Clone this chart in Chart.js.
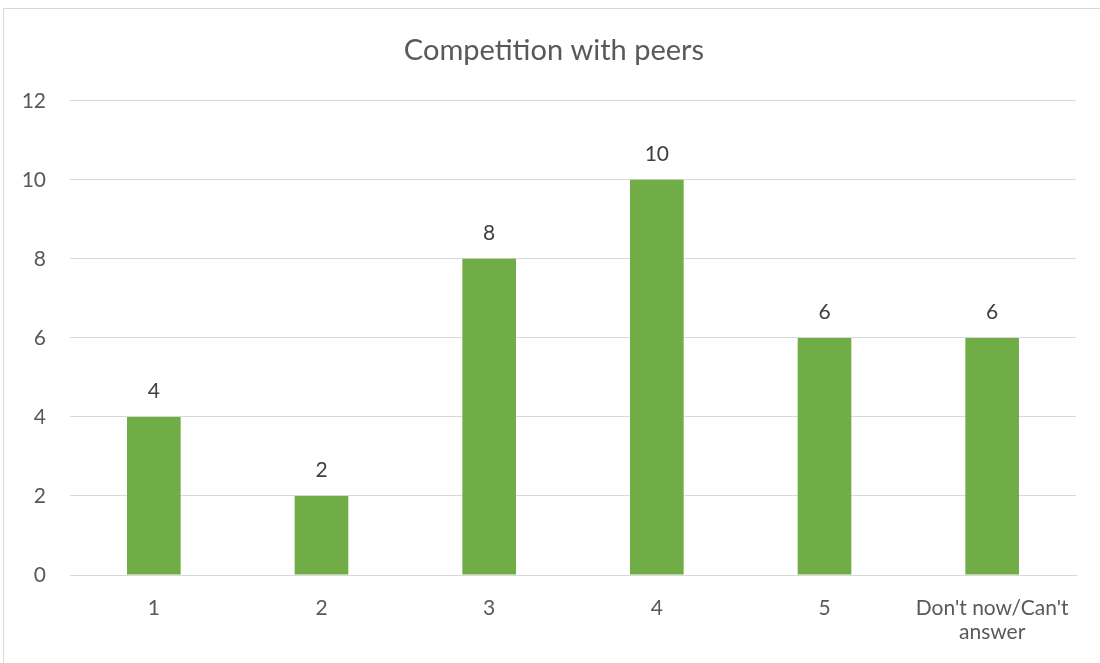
<!DOCTYPE html>
<html>
<head>
<meta charset="utf-8">
<script src="https://cdn.jsdelivr.net/npm/chart.js@4.4.1/dist/chart.umd.min.js"></script>
<style>
  html, body { margin: 0; padding: 0; background: #ffffff; }
  #wrap { position: relative; width: 1100px; height: 663px; overflow: hidden; }
  #frame { position: absolute; left: 3px; top: 8px; width: 1120px; height: 700px; border: 1px solid #d9d9d9; box-sizing: border-box; }
  canvas { position: absolute; left: 0; top: 0; }
</style>
</head>
<body>
<div id="wrap">
  <div id="frame"></div>
  <canvas id="c" width="1100" height="663"></canvas>
</div>
<script>
const chartTitle = "Competition with peers";
const categories = ["1", "2", "3", "4", "5", ["Don't now/Can't", "answer"]];
const values = [4, 2, 8, 10, 6, 6];
const yTicks = [0, 2, 4, 6, 8, 10, 12];

const FONT = "Lato, 'Open Sans', sans-serif";
const TEXT = "#595959";

const barLabels = {
  id: "barLabels",
  afterDatasetsDraw(chart) {
    const ctx = chart.ctx;
    const meta = chart.getDatasetMeta(0);
    ctx.save();
    ctx.font = "21px " + FONT;
    ctx.fillStyle = "#404040";
    ctx.textAlign = "center";
    ctx.textBaseline = "middle";
    meta.data.forEach((bar, i) => {
      ctx.fillText(String(values[i]), bar.x, bar.y - 26);
    });
    ctx.restore();
  }
};

// center the title on the whole frame rather than the padded area
const titleShift = {
  id: "titleShift",
  afterLayout(chart) {
    const t = chart.titleBlock;
    if (t) { t.left += 16; t.right += 16; }
  }
};

new Chart(document.getElementById("c"), {
  type: "bar",
  data: {
    labels: categories,
    datasets: [{
      data: values,
      backgroundColor: "#70ad47",
      borderWidth: 0,
      categoryPercentage: 1,
      barPercentage: 0.32
    }]
  },
  options: {
    responsive: false,
    animation: false,
    devicePixelRatio: 1,
    layout: { padding: { top: 0, left: 0, right: 24, bottom: 0 } },
    plugins: {
      legend: { display: false },
      tooltip: { enabled: false },
      title: {
        display: true,
        text: chartTitle,
        color: TEXT,
        font: { family: FONT, size: 29, weight: "normal", lineHeight: 1.2 },
        padding: { top: 33, bottom: 33 }
      }
    },
    scales: {
      x: {
        grid: { display: false, drawTicks: false },
        border: { display: true, color: "#d9d9d9" },
        ticks: { color: TEXT, font: { family: FONT, size: 21, lineHeight: 1.15 }, padding: 21, maxRotation: 0, autoSkip: false },
        afterFit(scale) { scale.height = 88; }
      },
      y: {
        min: 0, max: 12,
        afterBuildTicks(scale) { scale.ticks = yTicks.map(v => ({ value: v })); },
        grid: { color: "#d9d9d9", drawTicks: false },
        border: { display: false },
        ticks: { color: TEXT, font: { family: FONT, size: 21 }, padding: 24 },
        afterFit(scale) { scale.width = 70; }
      }
    }
  },
  plugins: [barLabels, titleShift]
});
</script>
</body>
</html>
